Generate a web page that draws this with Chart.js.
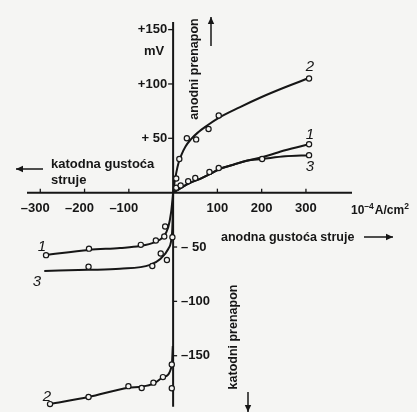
<!DOCTYPE html>
<html>
<head>
<meta charset="utf-8">
<script src="https://cdn.jsdelivr.net/npm/chart.js@4/dist/chart.umd.min.js"></script>
<style>
  html, body { margin: 0; padding: 0; background: #f5f5f3; }
  #wrap { width: 417px; height: 412px; position: relative; }
</style>
</head>
<body>
<div id="wrap"><canvas id="c" width="417" height="412"></canvas></div>
<script>
// ---- data (current density in 1e-4 A/cm2, overpotential in mV) ----
const xTickValues = [-300, -200, -100, 100, 200, 300];
const xTickLabels = ["\u2013300", "\u2013200", "\u2013100", "100", "200", "300"];
const yTickValues = [150, 100, 50, -50, -100, -150];
const yTickLabels = ["+150", "+100", "+ 50", "\u2013 50", "\u2013100", "\u2013150"];

// curve 2, anodic branch (fitted line and measured points)
const c2UpLineX = [0, 3, 7, 12, 19, 28, 40, 55, 76, 104, 150, 200, 250, 307];
const c2UpLineY = [0, 9, 18, 27, 35, 42.5, 49, 55, 61.5, 69, 78.5, 88, 96.5, 105.5];
const c2UpPtsX = [7, 14, 31, 52, 80, 103, 307];
const c2UpPtsY = [13, 31, 50, 49, 58.5, 71, 105];

// curve 1, anodic branch
const c1UpLineX = [0, 16, 38, 61, 84, 106, 136, 166, 201, 253, 307];
const c1UpLineY = [0, 4, 9, 12.7, 17.3, 22, 25.7, 29.4, 32.5, 39, 44.5];
const c1UpPtsX = [7, 17, 34, 50, 82, 103, 307];
const c1UpPtsY = [4.5, 6.6, 10.6, 13.6, 19.1, 22.7, 44.5];

// curve 3, anodic branch
const c3UpLineX = [0, 16, 38, 61, 84, 106, 136, 166, 201, 253, 307];
const c3UpLineY = [0, 4, 9, 12.7, 17.3, 22, 25.7, 29.4, 31, 33.5, 34.5];
const c3UpPtsX = [201, 307];
const c3UpPtsY = [31, 34.5];

// curve 1, cathodic branch
const c1DnLineX = [-289, -190, -120, -75, -41, -23, -11, -4.5, 0];
const c1DnLineY = [-57.5, -52.7, -50.9, -49.1, -45.5, -40.9, -31.8, -18, 0];
const c1DnPtsX = [-287, -190, -73, -39, -20, -18];
const c1DnPtsY = [-57.5, -51.5, -48, -44, -40.3, -31.2];

// curve 3, cathodic branch
const c3DnLineX = [-291, -192, -120, -52, -29, -11, -2.3, -0.5, 0];
const c3DnLineY = [-72, -71, -70, -66.4, -61, -51.8, -36.4, -14, 0];
const c3DnPtsX = [-191, -47, -28, -14, -1.6];
const c3DnPtsY = [-68.2, -67.5, -56, -62, -41];

// curve 2, cathodic branch
const c2DnLineX = [-278, -191, -101, -71, -44, -22, -3, -0.7];
const c2DnLineY = [-194.5, -188, -179.4, -178.5, -175.7, -169.7, -159, -141];
const c2DnPtsX = [-278, -191, -101, -71, -44.5, -23, -3, -3];
const c2DnPtsY = [-194.5, -188, -178, -179.7, -174.8, -169.7, -158, -180];

const INK = '#161616';
const BG = '#f5f5f3';
const FONT = "'Liberation Sans', Arial, sans-serif";

const zip = (xs, ys) => xs.map((v, i) => ({ x: v, y: ys[i] }));

function lineDs(xs, ys) {
  return { type: 'line', data: zip(xs, ys), borderColor: INK, borderWidth: 2,
    pointRadius: 0, fill: false, cubicInterpolationMode: 'monotone', clip: false, order: 1 };
}
function ptsDs(xs, ys) {
  return { type: 'scatter', data: zip(xs, ys), showLine: false, pointStyle: 'circle',
    pointRadius: 2.6, pointBorderWidth: 1.2, pointBorderColor: INK, pointBackgroundColor: BG,
    clip: false, order: 0 };
}

function arrow(ctx, x1, y1, x2, y2) {
  const ang = Math.atan2(y2 - y1, x2 - x1);
  ctx.beginPath(); ctx.moveTo(x1, y1); ctx.lineTo(x2, y2); ctx.stroke();
  const L = 7, W = 3.2;
  ctx.beginPath();
  ctx.moveTo(x2, y2);
  ctx.lineTo(x2 - L * Math.cos(ang) + W * Math.sin(ang), y2 - L * Math.sin(ang) - W * Math.cos(ang));
  ctx.lineTo(x2 - L * Math.cos(ang) - W * Math.sin(ang), y2 - L * Math.sin(ang) + W * Math.cos(ang));
  ctx.closePath(); ctx.fill();
}

const axesPlugin = {
  id: 'axesPlugin',
  beforeDatasetsDraw(chart) {
    const { ctx, chartArea: a, scales: { x, y } } = chart;
    const x0 = x.getPixelForValue(0), y0 = y.getPixelForValue(0);
    ctx.save();
    ctx.strokeStyle = INK; ctx.fillStyle = INK;
    ctx.lineWidth = 2;
    ctx.beginPath();
    ctx.moveTo(a.left, y0); ctx.lineTo(a.right, y0);
    ctx.moveTo(x0, a.top); ctx.lineTo(x0, a.bottom);
    ctx.stroke();

    // x ticks + labels
    ctx.lineWidth = 1.3;
    ctx.font = "bold 13px " + FONT;
    ctx.textBaseline = 'middle'; ctx.textAlign = 'center';
    xTickValues.forEach((v, i) => {
      const px = x.getPixelForValue(v);
      ctx.beginPath(); ctx.moveTo(px, y0 - 4); ctx.lineTo(px, y0); ctx.stroke();
      ctx.fillText(xTickLabels[i], px - (v < 0 ? 5 : 0), y0 + 16);
    });
    // y ticks + labels (positive on left, negative on right)
    yTickValues.forEach((v, i) => {
      const py = y.getPixelForValue(v);
      ctx.beginPath();
      if (v > 0) { ctx.moveTo(x0 - 5, py); ctx.lineTo(x0, py); }
      else { ctx.moveTo(x0, py); ctx.lineTo(x0 + 4, py); }
      ctx.stroke();
      if (v > 0) { ctx.textAlign = 'right'; ctx.fillText(yTickLabels[i], x0 - 6, py); }
      else { ctx.textAlign = 'left'; ctx.fillText(yTickLabels[i], x0 + 8, py); }
    });

    // unit label 10^-4 A/cm^2
    ctx.textAlign = 'left'; ctx.textBaseline = 'alphabetic';
    let ux = 351; const ub = y0 + 21;
    const parts = [["10", 12, 0], ["\u20134", 8.5, -5], ["A/cm", 12, 0], ["2", 8.5, -5]];
    parts.forEach(([t, s, dy]) => {
      ctx.font = "bold " + s + "px " + FONT;
      ctx.fillText(t, ux, ub + dy);
      ux += ctx.measureText(t).width + (t === "\u20134" ? 1 : 0);
    });

    // axis titles
    ctx.font = "bold 13px " + FONT;
    ctx.textBaseline = 'middle';
    ctx.textAlign = 'left';
    ctx.fillText("katodna gusto\u0107a", 51, 164);
    ctx.fillText("struje", 51, 180);
    ctx.font = "bold 12.5px " + FONT;
    ctx.fillText("anodna gusto\u0107a struje", 221, 238);
    ctx.textAlign = 'center';
    ctx.font = "bold 13px " + FONT;
    ctx.fillText("mV", 154, 51);

    ctx.font = "bold 12.5px " + FONT;
    ctx.save();
    ctx.translate(195, 69); ctx.rotate(-Math.PI / 2);
    ctx.fillText("anodni prenapon", 0, 0);
    ctx.restore();
    ctx.save();
    ctx.translate(234, 337); ctx.rotate(-Math.PI / 2);
    ctx.fillText("katodni prenapon", 0, 0);
    ctx.restore();

    // arrows
    ctx.lineWidth = 1.5;
    arrow(ctx, 43, 169, 16, 169);
    arrow(ctx, 211, 46, 211, 17);
    arrow(ctx, 248, 392, 248, 412);
    arrow(ctx, 364, 237, 393, 237);

    // curve numbers
    ctx.font = "italic 15px " + FONT;
    ctx.textAlign = 'center';
    ctx.fillText("2", 310, 67);
    ctx.fillText("1", 310, 135);
    ctx.fillText("3", 310, 167);
    ctx.fillText("1", 42, 247);
    ctx.fillText("3", 37, 282);
    ctx.fillText("2", 47, 397);
    ctx.restore();
  }
};

new Chart(document.getElementById('c'), {
  data: {
    datasets: [
      ptsDs(c2UpPtsX, c2UpPtsY), ptsDs(c1UpPtsX, c1UpPtsY), ptsDs(c3UpPtsX, c3UpPtsY),
      ptsDs(c1DnPtsX, c1DnPtsY), ptsDs(c3DnPtsX, c3DnPtsY), ptsDs(c2DnPtsX, c2DnPtsY),
      lineDs(c2UpLineX, c2UpLineY), lineDs(c1UpLineX, c1UpLineY), lineDs(c3UpLineX, c3UpLineY),
      lineDs(c1DnLineX, c1DnLineY), lineDs(c3DnLineX, c3DnLineY), lineDs(c2DnLineX, c2DnLineY)
    ]
  },
  options: {
    responsive: false,
    animation: false,
    devicePixelRatio: 1,
    layout: { padding: { left: 27, right: 65, top: 22, bottom: 0 } },
    plugins: { legend: { display: false }, tooltip: { enabled: false } },
    scales: {
      x: { type: 'linear', min: -330, max: 404, display: false },
      y: { type: 'linear', min: -197, max: 157, display: false }
    }
  },
  plugins: [axesPlugin, {
    id: 'bg',
    beforeDraw(chart) {
      const c = chart.ctx; c.save(); c.fillStyle = BG;
      c.fillRect(0, 0, chart.width, chart.height); c.restore();
    }
  }]
});
</script>
</body>
</html>
